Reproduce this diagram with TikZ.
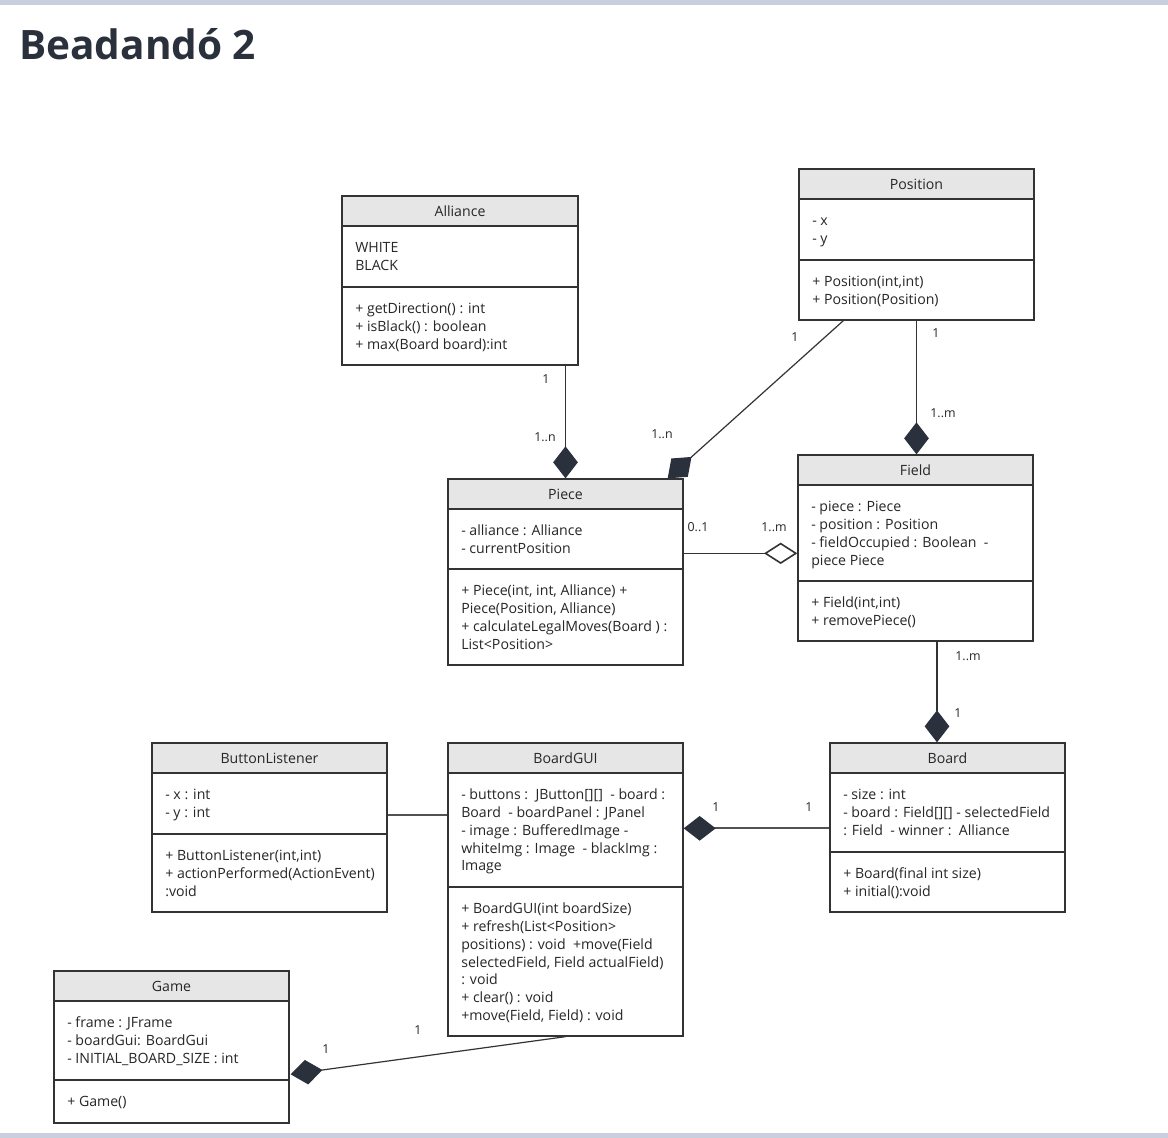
\documentclass[tikz,border=0pt]{standalone}
\usepackage{fontspec}
\setmainfont{Open Sans}
\newfontfamily\titlefont{Open Sans}
\usetikzlibrary{arrows.meta,calc,fit}
\definecolor{band}{HTML}{C9CFDC}
\definecolor{hdr}{HTML}{E6E6E6}
\definecolor{linec}{HTML}{333333}
\definecolor{diac}{HTML}{2A313C}
\definecolor{txtc}{HTML}{262626}
\definecolor{titlec}{HTML}{2A313C}
\tikzset{
  clsbox/.style={draw=linec, line width=1pt, inner sep=0pt},
  clsline/.style={draw=linec, line width=1pt},
  clstitle/.style={font=\fontsize{10.6}{13.3}\selectfont, text=txtc, inner sep=0pt, anchor=base},
  clstxt/.style={font=\fontsize{10.6}{13.3}\selectfont, text=txtc, inner sep=0pt, align=left, anchor=north west},
  conn/.style={draw=linec, line width=0.9pt},
  fdia/.style={-{Diamond[length=24pt,width=18.5pt,color=diac]}},
  hdia/.style={-{Diamond[open,length=25pt,width=16pt,fill=white,color=linec,line width=1.2pt]}},
  mult/.style={font=\fontsize{9.3}{10}\selectfont, text=txtc, inner sep=0pt, anchor=center},
}
% name, x1, y1, x2, y2, ydiv, title, attrs, methods
\newcommand{\umlclassbox}[9]{%
  \fill[hdr] (#2,#3) rectangle (#4,{#3+30});
  \node[clsbox, fit={(#2,#3)(#4,#5)}] (#1) {};
  \draw[clsline] (#2,{#3+30}) -- (#4,{#3+30});
  \draw[clsline] (#2,#6) -- (#4,#6);
  \node[clstitle] (#1-t) at ({(#2+#4)/2},{#3+20}) {#7};
  \node[clstxt] (#1-a) at ({#2+13},{#3+44.2}) {\strut#8};
  \node[clstxt] (#1-m) at ({#2+13},{#6+14.2}) {\strut#9};
}
\begin{document}
\begin{tikzpicture}[x=0.75pt,y=-0.75pt]
\useasboundingbox (0,0) rectangle (1168,1138);
\fill[white] (0,0) rectangle (1168,1138);
\fill[band] (0,0) rectangle (1168,5);
\fill[band] (0,1133) rectangle (1168,1138);
\node[anchor=base west, inner sep=0pt, text=titlec, font=\titlefont\bfseries\fontsize{30.4}{36}\selectfont] (title) at (19,60) {Beadandó 2};

\umlclassbox{alliance}{342}{196}{578}{365}{287}{Alliance}%
  {WHITE\\BLACK}%
  {+ getDirection() : int\\+ isBlack() : boolean\\+ max(Board board):int}
\umlclassbox{position}{799}{169}{1034}{320}{260}{Position}%
  {- x\\- y}%
  {+ Position(int,int)\\+ Position(Position)}
\umlclassbox{piece}{448}{479}{683}{665}{569}{Piece}%
  {- alliance : Alliance\\- currentPosition}%
  {+ Piece(int, int, Alliance) +\\Piece(Position, Alliance)\\+ calculateLegalMoves(Board ) :\\List<Position>}
\umlclassbox{field}{798}{455}{1033}{641}{581}{Field}%
  {- piece : Piece\\- position : Position\\- fieldOccupied : Boolean~~-\\piece Piece}%
  {+ Field(int,int)\\+ removePiece()}
\umlclassbox{buttonlistener}{152}{743}{387}{912}{834}{ButtonListener}%
  {- x : int\\- y : int}%
  {+ ButtonListener(int,int)\\+ actionPerformed(ActionEvent)\\:void}
\umlclassbox{boardgui}{448}{743}{683}{1036}{887}{BoardGUI}%
  {- buttons :~~JButton[][]~~- board :\\Board~~- boardPanel : JPanel\\- image : BufferedImage -\\whiteImg : Image~~- blackImg :\\Image}%
  {+ BoardGUI(int boardSize)\\+ refresh(List<Position>\\positions) : void~~+move(Field\\selectedField, Field actualField)\\: void\\+ clear() : void\\+move(Field, Field) : void}
\umlclassbox{board}{830}{743}{1065}{912}{852}{Board}%
  {- size : int\\- board : Field[][] - selectedField\\: Field~~- winner :~~Alliance}%
  {+ Board(final int size)\\+ initial():void}
\umlclassbox{game}{54}{971}{289}{1123}{1080}{Game}%
  {- frame : JFrame\\- boardGui: BoardGui\\- INITIAL\_BOARD\_SIZE : int}%
  {+ Game()}

% connectors
\draw[conn, fdia] (alliance.south -| piece.north) -- (piece.north);
\draw[conn, fdia] ($(position.south west)+(45,0)$) -- ($(piece.north east)+(-16,0)$);
\draw[conn, fdia] (position.south) -- (position.south |- field.north);
\draw[conn, hdia] ($(piece.north east)+(0,75)$) -- ($(field.north west)+(0,99)$);
\coordinate (bx) at ($(board.north)+(-10.5,0)$);
\draw[conn, fdia] (bx |- field.south) -- (bx);
\draw[conn, line width=1.3pt, draw=linec!85] ($(buttonlistener.north east)+(0,73)$) -- ($(boardgui.north west)+(0,73)$);
\draw[conn, fdia, line width=1.3pt, draw=linec!85] ($(board.north west)+(0,86)$) -- ($(boardgui.north east)+(0,86)$);
\draw[conn, fdia] (boardgui.south) -- ($(game.north east)+(1,104)$);

% multiplicities
\node[mult] (m1) at (546,379) {1};
\node[mult] (m2) at (545,437) {1..n};
\node[mult] (m3) at (795,337) {1};
\node[mult] (m4) at (662,434) {1..n};
\node[mult] (m5) at (936,333) {1};
\node[mult] (m6) at (943,413) {1..m};
\node[mult] (m7) at (698,527) {0..1};
\node[mult] (m8) at (774,527) {1..m};
\node[mult] (m9) at (968,656) {1..m};
\node[mult] (m10) at (958,713) {1};
\node[mult] (m11) at (716,807) {1};
\node[mult] (m12) at (809,807) {1};
\node[mult] (m13) at (418,1030) {1};
\node[mult] (m14) at (326,1049) {1};
\end{tikzpicture}
\end{document}
